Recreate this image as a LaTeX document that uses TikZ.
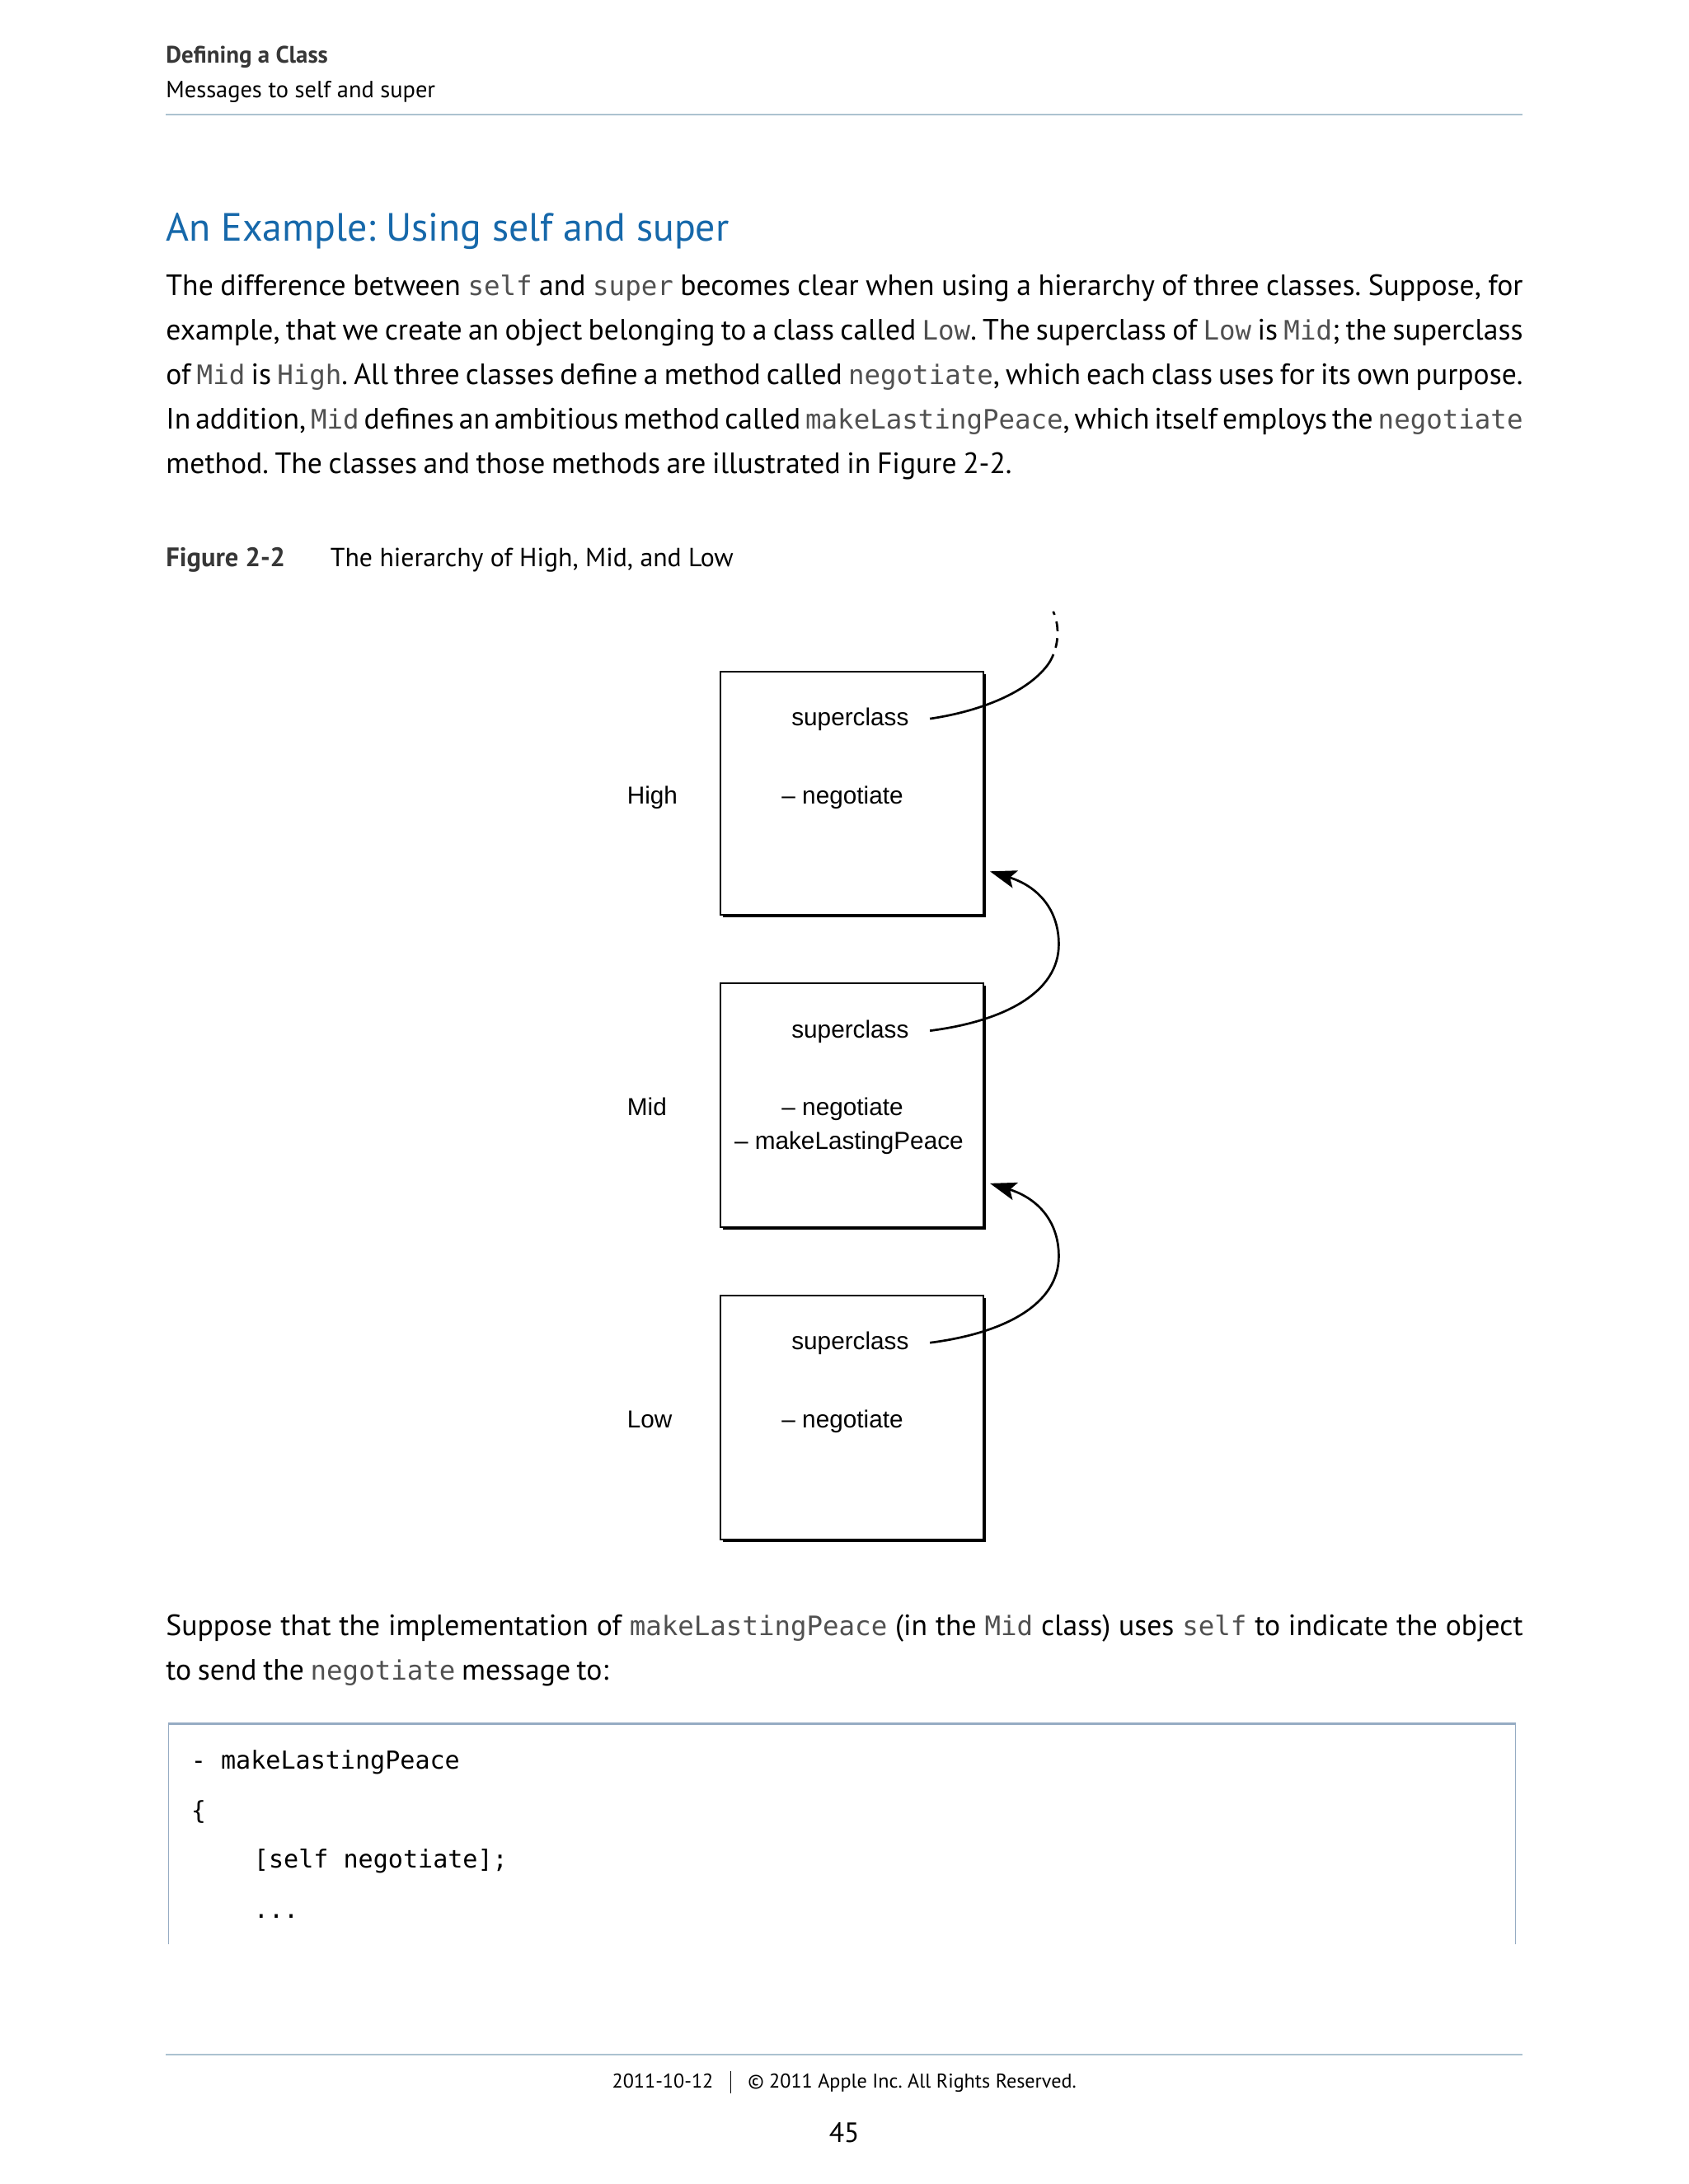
\documentclass[tikz,border=0pt]{standalone}
\usepackage{fontspec}
\setmainfont{PT Sans}
\newfontfamily\bodyfont{PT Sans}[WordSpace={0.8,3,0.6}]
\newfontfamily\figfont{Liberation Sans}
\newfontfamily\codefont{DejaVu Sans Mono}
\usetikzlibrary{arrows.meta,shadows,calc}
\definecolor{ruleblue}{RGB}{172,194,208}
\definecolor{boxblue}{RGB}{150,172,195}
\definecolor{titleblue}{RGB}{22,104,170}
\definecolor{monogray}{RGB}{80,80,80}
\definecolor{headgray}{RGB}{55,55,55}
\newcommand{\mn}[1]{{\codefont\fontsize{19.2}{24}\selectfont\color{monogray}#1}}
\newcommand{\jline}[1]{\makebox[974pt][s]{#1}}
\frenchspacing
\begin{document}
\begin{tikzpicture}[x=1pt,y=-1pt,
  body/.style={anchor=base west, inner sep=0pt, font=\bodyfont\fontsize{21.1}{24}\selectfont},
  classbox/.style={draw, line width=1.2pt, fill=white, minimum width=189pt, minimum height=175pt, inner sep=0pt,
     drop shadow={shadow xshift=1.8pt, shadow yshift=-1.8pt, opacity=1, fill=black}},
  figtext/.style={anchor=base west, inner sep=0pt, font=\figfont\fontsize{17.6}{20}\selectfont},
  link/.style={line width=1.6pt},
  tip/.style={-{Stealth[length=19pt,width=13pt,inset=4pt]}},
  codetext/.style={anchor=base west, inner sep=0pt, font=\codefont\fontsize{17.8}{20}\selectfont},
  pagerule/.style={draw=ruleblue, line width=1.2pt}
]
\useasboundingbox (0,0) rectangle (1212,1568);
\fill[white] (0,0) rectangle (1212,1568);

% header
\node[anchor=base west, inner sep=0pt, text=headgray, font=\bfseries\fontsize{17.1}{19}\selectfont] (h1) at (119,45) {Defining a Class};
\node[anchor=base west, inner sep=0pt, font=\fontsize{16.8}{19}\selectfont] (h2) at (119,70) {Messages to self and super};
\coordinate (r1a) at (119,82.5);
\coordinate (r1b) at (1093,82.5);
\draw[pagerule] (r1a) -- (r1b);

% title
\node[anchor=base west, inner sep=0pt, text=titleblue, font=\fontsize{28.3}{32}\selectfont] (title) at (119,173) {An Example: Using self and super};

% paragraph
\node[body] (p1) at (119,212) {\jline{The difference between \mn{self} and \mn{super} becomes clear when using a hierarchy of three classes. Suppose, for}};
\node[body] (p2) at (119,244) {\jline{example, that we create an object belonging to a class called \mn{Low}. The superclass of \mn{Low} is \mn{Mid}; the superclass}};
\node[body] (p3) at (119,276) {\jline{of \mn{Mid} is \mn{High}. All three classes define a method called \mn{negotiate}, which each class uses for its own purpose.}};
\node[body] (p4) at (119,308) {\jline{In addition, \mn{Mid} defines an ambitious method called \mn{makeLastingPeace}, which itself employs the \mn{negotiate}}};
\node[body] (p5) at (119,340) {method. The classes and those methods are illustrated in Figure 2-2.};

% caption
\node[anchor=base west, inner sep=0pt, text=headgray, font=\bfseries\fontsize{19.2}{22}\selectfont] (figno) at (119,407) {Figure 2-2};
\node[anchor=base west, inner sep=0pt, font=\fontsize{18.8}{22}\selectfont] (figcap) at (237,407) {The hierarchy of High, Mid, and Low};

% boxes
\node[classbox] (hi) at (611.5,569.5) {};
\node[classbox] (mid) at (611.5,793.5) {};
\node[classbox] (low) at (611.5,1017.5) {};

\node[figtext] (hilab) at (450,577) {High};
\node[figtext] (midlab) at (450,801) {Mid};
\node[figtext] (lowlab) at (450,1025) {Low};

\node[figtext] (hsup) at (568,521) {superclass};
\node[figtext] (hneg) at (561,577) {– negotiate};
\node[figtext] (msup) at (568,745) {superclass};
\node[figtext] (mneg) at (561,801) {– negotiate};
\node[figtext] (mmlp) at (527,825) {– makeLastingPeace};
\node[figtext] (lsup) at (568,969) {superclass};
\node[figtext] (lneg) at (561,1025) {– negotiate};

% connectors
\coordinate (hs) at ($(hsup.base east)+(15,-5)$);
\coordinate (hmidpt) at (753,476);
\coordinate (htop) at (756,439);
\draw[link] (hs) .. controls (708,510) and (740,495) .. (hmidpt);
\draw[link, dash pattern=on 7pt off 5pt] (hmidpt) .. controls (760,465) and (761,450) .. (htop);

\coordinate (ms) at ($(msup.base east)+(15,-5)$);
\coordinate (hin) at ($(hi.south east)+(4,-32)$);
\draw[link, tip] (ms) .. controls (722,733) and (760,712) .. (760,678) .. controls (760,652) and (744,636) .. (hin);

\coordinate (ls) at ($(lsup.base east)+(15,-5)$);
\coordinate (min) at ($(mid.south east)+(4,-32)$);
\draw[link, tip] (ls) .. controls (722,957) and (760,936) .. (760,902) .. controls (760,876) and (744,860) .. (min);

% second paragraph
\node[body] (q1) at (119,1174) {\jline{Suppose that the implementation of \mn{makeLastingPeace} (in the \mn{Mid} class) uses \mn{self} to indicate the object}};
\node[body] (q2) at (119,1206) {to send the \mn{negotiate} message to:};

% code box
\coordinate (cbl) at (121,1396);
\coordinate (cbtl) at (121,1237.5);
\coordinate (cbtr) at (1088,1237.5);
\coordinate (cbr) at (1088,1396);
\draw[draw=boxblue, line width=0.8pt] (cbl) -- (cbtl);
\draw[draw=boxblue, line width=0.8pt] (cbr) -- (cbtr);
\draw[draw=boxblue, line width=1.4pt] (cbtl) -- (cbtr);
\node[codetext] (c1) at (137,1270) {- makeLastingPeace};
\node[codetext] (c2) at (137,1306) {\{};
\node[codetext] (c3) at (182,1341) {[self negotiate];};
\node[codetext] (c4) at (182,1377) {...};

% footer
\coordinate (r2a) at (119,1475);
\coordinate (r2b) at (1093,1475);
\draw[pagerule] (r2a) -- (r2b);
\node[anchor=base, inner sep=0pt, font=\fontsize{14.3}{17}\selectfont] (foot) at (606,1499) {2011-10-12\hspace{12pt}\rule[-4pt]{0.8pt}{16pt}\hspace{12pt}© 2011 Apple Inc. All Rights Reserved.};
\node[anchor=base, inner sep=0pt, font=\fontsize{20}{24}\selectfont] (pgno) at (606,1538) {45};
\end{tikzpicture}
\end{document}
